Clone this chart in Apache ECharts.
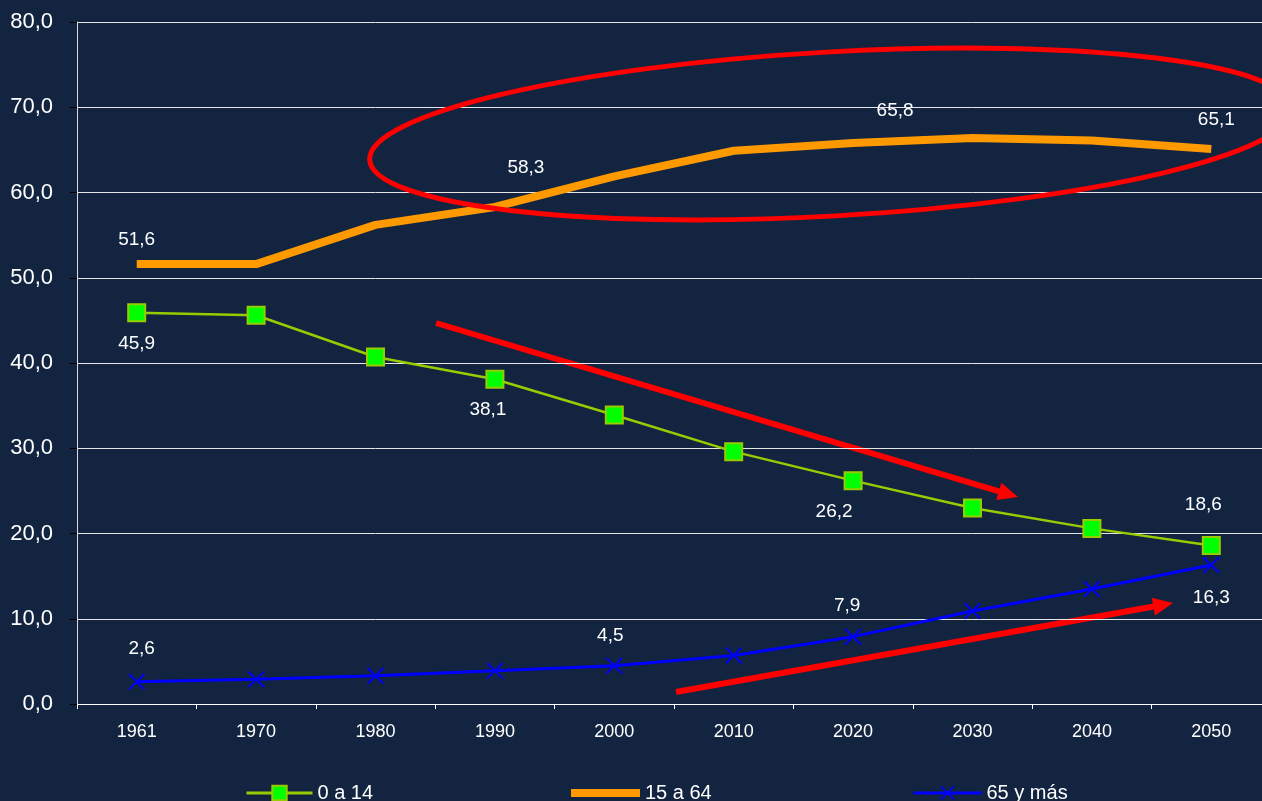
<!DOCTYPE html>
<html>
<head>
<meta charset="utf-8">
<script src="https://cdn.jsdelivr.net/npm/echarts@6/dist/echarts.min.js"></script>
<style>
  html, body { margin: 0; padding: 0; background: #122440; overflow: hidden; }
  /* el área de trazado sobrepasa el borde derecho de la imagen */
  #chart { width: 1271px; height: 801px; }
</style>
</head>
<body>
<div id="chart"></div>
<script>
// datos
const years = ['1961', '1970', '1980', '1990', '2000', '2010', '2020', '2030', '2040', '2050'];
const young = [45.9, 45.6, 40.7, 38.1, 33.9, 29.6, 26.2, 23.0, 20.6, 18.6];   // 0 a 14
const adults = [51.6, 51.6, 56.2, 58.3, 61.9, 64.9, 65.8, 66.4, 66.1, 65.1]; // 15 a 64
const old = [2.6, 2.9, 3.3, 3.9, 4.5, 5.7, 7.9, 10.9, 13.5, 16.3];           // 65 y más
const yTicks = [0, 10, 20, 30, 40, 50, 60, 70, 80];

// etiquetas visibles: indice -> desplazamiento en px
const youngLabels = { 0: [0, 31], 3: [-7, 31], 6: [-19, 31], 9: [-8, -41] };
const adultLabels = { 0: [0, -24], 3: [31, -39], 6: [42, -32], 9: [5, -29] };
const oldLabels = { 0: [5, -33], 4: [-4, -30], 6: [-6, -31], 9: [0, 33] };

const FONT = "'Liberation Sans', Arial, sans-serif";
const fmt = v => Number(v).toFixed(1).replace('.', ',');

function withLabels(values, labels) {
  return values.map((v, i) => ({
    value: v,
    label: labels[i] ? { show: true, offset: labels[i] } : { show: false }
  }));
}

function arrow(x1, y1, x2, y2) {
  const len = Math.hypot(x2 - x1, y2 - y1);
  const ux = (x2 - x1) / len, uy = (y2 - y1) / len;
  const hl = 20, hw = 9;
  const bx = x2 - ux * hl, by = y2 - uy * hl;
  return [
    { type: 'line', shape: { x1: x1, y1: y1, x2: bx + ux * 2, y2: by + uy * 2 },
      style: { stroke: '#ff0000', lineWidth: 6 } },
    { type: 'polygon', shape: { points: [[x2, y2], [bx - uy * hw, by + ux * hw], [bx + uy * hw, by - ux * hw]] },
      style: { fill: '#ff0000' } }
  ];
}

const labelStyle = {
  position: 'inside',
  color: '#ffffff',
  fontFamily: FONT,
  fontSize: 19,
  formatter: p => fmt(p.value)
};

const xPath = 'path://M0,0.8 L0.8,0 L5,4.2 L9.2,0 L10,0.8 L5.8,5 L10,9.2 L9.2,10 L5,5.8 L0.8,10 L0,9.2 L4.2,5 Z';
const legendText = { color: '#ffffff', fontFamily: FONT, fontSize: 20 };

const chart = echarts.init(document.getElementById('chart'));
chart.setOption({
  backgroundColor: '#122440',
  animation: false,
  grid: { left: 77, top: 22, right: 0, bottom: 97 },
  xAxis: {
    type: 'category',
    data: years,
    boundaryGap: true,
    axisLine: { lineStyle: { color: '#ffffff', width: 1 } },
    axisTick: { show: true, length: 5, lineStyle: { color: '#ffffff' } },
    axisLabel: { color: '#ffffff', fontFamily: FONT, fontSize: 18, margin: 19 },
    splitLine: { show: false }
  },
  yAxis: {
    type: 'value',
    min: yTicks[0],
    max: yTicks[yTicks.length - 1],
    interval: 10,
    axisLine: { show: true, lineStyle: { color: '#dcdcdc', width: 1 } },
    axisTick: { show: true, length: 7, lineStyle: { color: '#000000' } },
    axisLabel: { color: '#ffffff', fontFamily: FONT, fontSize: 22, margin: 24, formatter: v => fmt(v) },
    splitLine: { show: true, lineStyle: { color: '#e6e6e6', width: 1 } }
  },
  legend: [
    { data: ['0 a 14'], left: 240, top: 778, itemWidth: 66, itemHeight: 18, itemGap: 7,
      lineStyle: { width: 3 }, textStyle: legendText },
    { data: [{ name: '15 a 64', icon: 'rect' }], left: 566, top: 778, itemWidth: 69, itemHeight: 8, itemGap: 7,
      itemStyle: { color: '#ff9900' }, textStyle: legendText },
    { data: ['65 y más'], left: 907, top: 778, itemWidth: 68, itemHeight: 18, itemGap: 7,
      lineStyle: { width: 3 }, textStyle: legendText }
  ],
  series: [
    {
      name: '15 a 64',
      type: 'line',
      data: withLabels(adults, adultLabels),
      symbol: 'circle',
      symbolSize: 1,
      itemStyle: { color: 'rgba(0,0,0,0)' },
      lineStyle: { color: '#ff9900', width: 8, cap: 'butt' },
      label: labelStyle,
      z: 2
    },
    {
      name: '0 a 14',
      type: 'line',
      data: withLabels(young, youngLabels),
      symbol: 'rect',
      symbolSize: 17,
      itemStyle: { color: '#00ff00', borderColor: '#99cc00', borderWidth: 2 },
      lineStyle: { color: '#99cc00', width: 2.5 },
      label: labelStyle,
      z: 3
    },
    {
      name: '65 y más',
      type: 'line',
      data: withLabels(old, oldLabels),
      symbol: xPath,
      symbolSize: 17,
      itemStyle: { color: '#0000ff' },
      lineStyle: { color: '#0000ff', width: 3 },
      label: labelStyle,
      z: 3
    }
  ],
  graphic: [
    {
      type: 'ellipse',
      shape: { cx: 0, cy: 0, rx: 462, ry: 82 },
      x: 831, y: 134,
      rotation: 0.056,
      style: { fill: 'none', stroke: '#ff0000', lineWidth: 5 },
      z: 10
    },
    { type: 'group', children: arrow(436, 323, 1018, 497), z: 10 },
    { type: 'group', children: arrow(676, 692, 1173, 603), z: 10 }
  ]
});
</script>
</body>
</html>
